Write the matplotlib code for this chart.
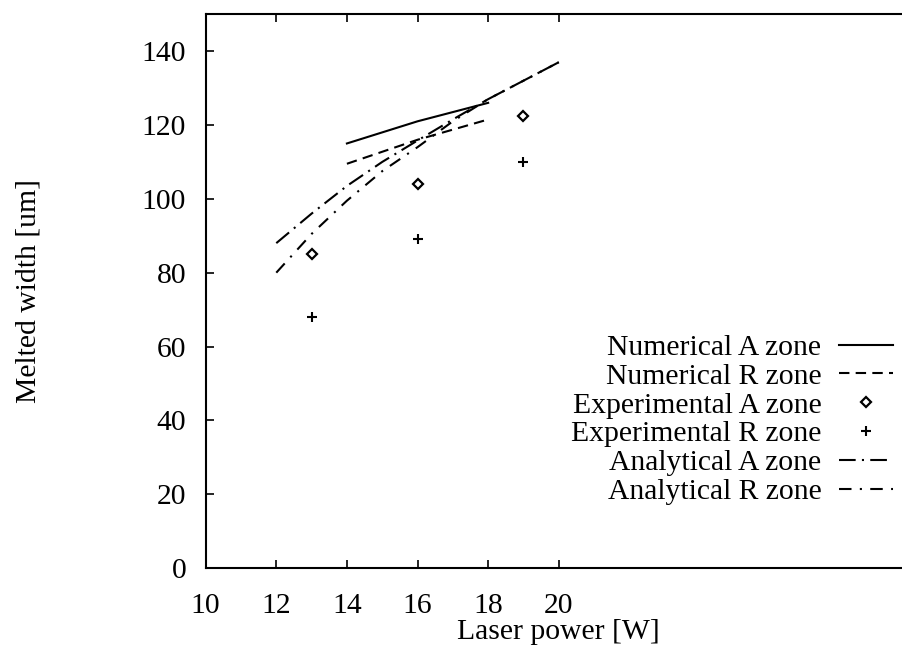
import matplotlib
matplotlib.use('Agg')
import matplotlib.pyplot as plt

plt.rcParams['font.family'] = 'Liberation Serif'

# numerical model
num_power = [14, 16, 18]
num_a_zone = [115, 121, 126]
num_r_zone = [109.5, 116, 121.5]

# experiments
exp_power = [13, 16, 19]
exp_a_zone = [85, 104, 122.5]
exp_r_zone = [68, 89, 110]

# analytical model
ana_power = [12, 13, 14, 15, 16, 17, 18, 19, 20]
ana_a_zone = [88, 96, 103.5, 110, 115.8, 121.5, 127, 132, 137]
ana_r_zone = [80, 90.5, 99.5, 107.5, 114, 121, 127, 132, 137]

xticks = [10, 12, 14, 16, 18, 20]
yticks = [0, 20, 40, 60, 80, 100, 120, 140]

FS = 21.3

fig = plt.figure(figsize=(9.02, 6.47), dpi=100)
ax = fig.add_axes([0.228, 0.122, 0.783, 0.856])

ax.plot(num_power, num_a_zone, color='black', lw=1.5, label='Numerical A zone')
ax.plot(num_power, num_r_zone, color='black', lw=1.5, ls=(0, (5, 3)), label='Numerical R zone')
ax.plot(exp_power, exp_a_zone, ls='none', marker='D', ms=5, mfc='white', mec='black', mew=1.6,
        label='Experimental A zone')
ax.plot(exp_power, exp_r_zone, ls='none', marker='+', ms=7, color='black', mew=1.5,
        label='Experimental R zone')
ax.plot(ana_power, ana_a_zone, color='black', lw=1.5, ls=(0, (8, 3, 1, 3)), label='Analytical A zone')
ax.plot(ana_power, ana_r_zone, color='black', lw=1.5, ls=(0, (6, 4, 1, 4)), label='Analytical R zone')

ax.set_xlim(10, 30)
ax.set_ylim(0, 150)
ax.set_xticks(xticks)
ax.set_yticks(yticks)
ax.tick_params(direction='in', length=6, width=1.2, labelsize=FS, top=True)
ax.tick_params(axis='x', pad=18)
ax.tick_params(axis='y', pad=14)
ax.spines['right'].set_visible(False)
for s in ['left', 'bottom', 'top']:
    ax.spines[s].set_linewidth(1.5)

ax.set_xlabel('Laser power [W]', fontsize=FS)
ax.set_ylabel('Melted width [um]', fontsize=FS)
ax.xaxis.set_label_coords(0.5, -0.092)
ax.yaxis.set_label_coords(-0.233, 0.5)

ax.legend(loc='center right', bbox_to_anchor=(0.973, 0.268), frameon=False, fontsize=FS,
          markerfirst=False, handlelength=1.82, labelspacing=0.07, handletextpad=0.6,
          borderpad=0, borderaxespad=0)

plt.savefig('out.png', dpi=100)
